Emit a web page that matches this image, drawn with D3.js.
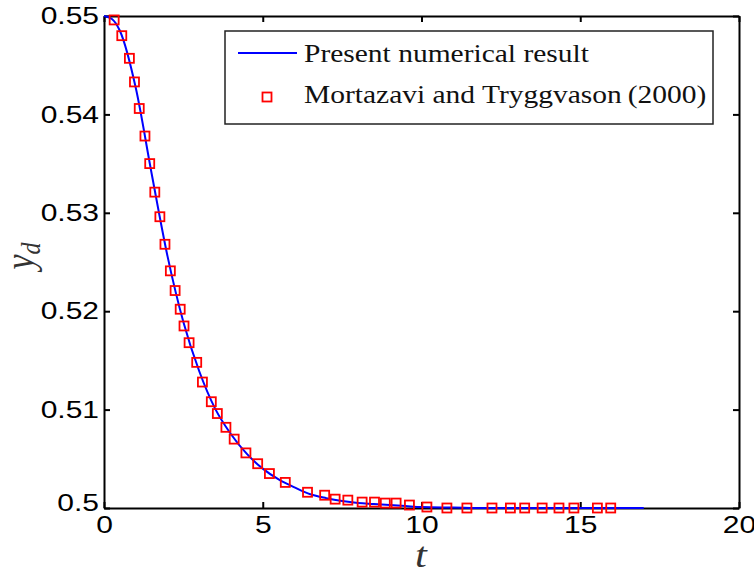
<!DOCTYPE html>
<html>
<head>
<meta charset="utf-8">
<script src="https://cdn.jsdelivr.net/npm/d3@7"></script>
<style>
  body { margin: 0; background: #fff; }
  .tick text { font-family: "Liberation Sans", Arial, sans-serif; font-size: 24px; fill: #000; }
  .domain, .tick line { stroke: #000; stroke-width: 2px; }
</style>
</head>
<body>
<div id="chart"></div>
<script>
// present numerical result (blue line)
const lineT = [0, 0.25, 0.5, 1, 1.5, 2, 2.5, 3, 3.5, 4, 4.5, 5, 5.5, 6, 6.5, 7, 7.5, 8, 8.5, 9, 9.5, 10, 11, 12, 13, 14, 15, 16, 17];
const lineY = [0.5500, 0.5497, 0.5485, 0.5427, 0.5340, 0.5256, 0.5189, 0.5139, 0.5101, 0.5075, 0.5055, 0.5040, 0.5029, 0.5021, 0.5014, 0.5010, 0.5007, 0.5005, 0.5004, 0.5003, 0.5002, 0.5001, 0.50005, 0.5000, 0.5000, 0.5000, 0.5000, 0.5000, 0.5000];

// Mortazavi and Tryggvason (2000) (red squares)
const refT = [0.32, 0.56, 0.80, 0.96, 1.11, 1.29, 1.44, 1.60, 1.76, 1.92, 2.09, 2.24, 2.40, 2.52, 2.68, 2.92, 3.10, 3.38, 3.57, 3.84, 4.10, 4.47, 4.84, 5.21, 5.71, 6.41, 6.95, 7.28, 7.68, 8.13, 8.52, 8.86, 9.20, 9.62, 10.17, 10.80, 11.43, 12.22, 12.80, 13.25, 13.80, 14.33, 14.80, 15.54, 15.96];
const refY = [0.5496, 0.5480, 0.5457, 0.5433, 0.5406, 0.5378, 0.5350, 0.5321, 0.5296, 0.5268, 0.5241, 0.5221, 0.5202, 0.5185, 0.5168, 0.5148, 0.5128, 0.5108, 0.5096, 0.5082, 0.5070, 0.5056, 0.5045, 0.5035, 0.5026, 0.5016, 0.5013, 0.5009, 0.5008, 0.5006, 0.5006, 0.5005, 0.5005, 0.5003, 0.5001, 0.5000, 0.5000, 0.5000, 0.5000, 0.5000, 0.5000, 0.5000, 0.5000, 0.5000, 0.5000];

const xTicks = [0, 5, 10, 15, 20];
const yTicks = [0.5, 0.51, 0.52, 0.53, 0.54, 0.55];
const legendLabels = ["Present numerical result", "Mortazavi and Tryggvason\u2009(2000)"];

const W = 754, H = 576;
const plot = {left: 104, top: 16, right: 739, bottom: 508};
const sx = 1.25; // labels in the picture are stretched sideways

const x = d3.scaleLinear().domain([0, 20]).range([plot.left, plot.right]);
const y = d3.scaleLinear().domain([0.5, 0.55]).range([plot.bottom, plot.top]);

const svg = d3.select("#chart").append("svg")
  .attr("width", W)
  .attr("height", H);

function stretch(sel) {
  sel.selectAll(".tick text").each(function() {
    const t = d3.select(this);
    const tx = +t.attr("x") || 0, ty = +t.attr("y") || 0;
    t.attr("transform", "translate(" + tx + "," + ty + ") scale(" + sx + ",1)")
      .attr("x", 0).attr("y", 0);
  });
}

// axes, ticks pointing inward
const gx = svg.append("g")
  .attr("transform", "translate(0," + plot.bottom + ")")
  .call(d3.axisBottom(x).tickValues(xTicks).tickSizeInner(-6).tickSizeOuter(0).tickPadding(8).tickFormat(d3.format("d")));
stretch(gx);

const gy = svg.append("g")
  .attr("transform", "translate(" + plot.left + ",0)")
  .call(d3.axisLeft(y).tickValues(yTicks).tickSizeInner(-6).tickSizeOuter(0).tickPadding(5).tickFormat(d => d3.format("")(+d.toFixed(2))));
stretch(gy);
gy.selectAll(".tick text").filter(d => d === 0.5).attr("dy", "0.1em");

svg.append("g")
  .attr("transform", "translate(0," + plot.top + ")")
  .call(d3.axisTop(x).tickValues(xTicks).tickSizeInner(-6).tickSizeOuter(0).tickFormat(""));
svg.append("g")
  .attr("transform", "translate(" + plot.right + ",0)")
  .call(d3.axisRight(y).tickValues(yTicks).tickSizeInner(-6).tickSizeOuter(0).tickFormat(""));

// data
const lineData = lineT.map((t, i) => [t, lineY[i]]);
const refData = refT.map((t, i) => [t, refY[i]]);

svg.append("path")
  .datum(lineData)
  .attr("fill", "none")
  .attr("stroke", "#0000ff")
  .attr("stroke-width", 2)
  .attr("d", d3.line().x(d => x(d[0])).y(d => y(d[1])).curve(d3.curveMonotoneX));

svg.append("g").selectAll("rect")
  .data(refData)
  .enter()
  .append("rect")
  .attr("x", d => x(d[0]) - 4.5)
  .attr("y", d => y(d[1]) - 4.5)
  .attr("width", 9)
  .attr("height", 9)
  .attr("fill", "none")
  .attr("stroke", "#ff0000")
  .attr("stroke-width", 1.8);

// axis labels
svg.append("text")
  .attr("transform", "translate(421,567) scale(1.18,1)")
  .attr("text-anchor", "middle")
  .style("font-family", "'Liberation Serif', serif")
  .style("font-style", "italic")
  .style("font-size", "36px")
  .style("fill", "#333")
  .text("t");

const yl = svg.append("text")
  .attr("transform", "translate(33,256) rotate(-90) scale(1,1.15)")
  .attr("text-anchor", "middle")
  .style("font-family", "'Liberation Serif', serif")
  .style("font-style", "italic")
  .style("font-size", "34px")
  .style("fill", "#333");
yl.append("tspan").text("y");
yl.append("tspan").attr("dy", 6).style("font-size", "24px").text("d");

// legend
const lg = svg.append("g");
lg.append("rect")
  .attr("x", 225).attr("y", 31)
  .attr("width", 488).attr("height", 93)
  .attr("fill", "#fff")
  .attr("stroke", "#222")
  .attr("stroke-width", 1.5);
lg.append("line")
  .attr("x1", 238).attr("x2", 297)
  .attr("y1", 53).attr("y2", 53)
  .attr("stroke", "#0000ff").attr("stroke-width", 2);
lg.append("rect")
  .attr("x", 267 - 4.5).attr("y", 97 - 4.5)
  .attr("width", 9).attr("height", 9)
  .attr("fill", "none").attr("stroke", "#ff0000").attr("stroke-width", 1.8);
lg.selectAll("text.lab")
  .data(legendLabels)
  .enter()
  .append("text")
  .attr("class", "lab")
  .attr("transform", (d, i) => "translate(304," + (62 + i * 41) + ") scale(1.18,1)")
  .style("font-family", "'Liberation Serif', serif")
  .style("font-size", "25px")
  .style("fill", "#111")
  .text(d => d);
</script>
</body>
</html>
